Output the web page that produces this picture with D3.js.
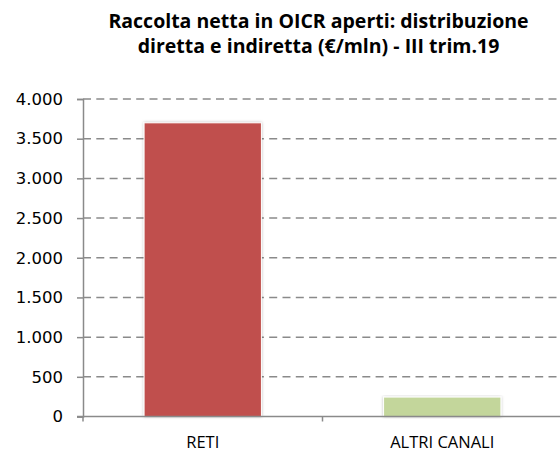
<!DOCTYPE html>
<html lang="it">
<head>
<meta charset="utf-8">
<title>Raccolta netta in OICR aperti</title>
<style>
  body { margin: 0; background: #fff; }
  .title { font-family: "Open Sans", sans-serif; font-weight: bold; font-size: 19.5px; fill: #000; }
  .y-axis .tick text { font-family: "DejaVu Sans", Verdana, sans-serif; font-size: 16.5px; fill: #000; }
  .x-axis .tick text { font-family: "Open Sans", sans-serif; font-size: 16.5px; fill: #000; }
  .grid line { stroke: #8a8a8a; stroke-width: 1.5; stroke-dasharray: 8 5.3; }
</style>
</head>
<body>
<div id="chart"></div>
<script src="https://d3js.org/d3.v7.min.js"></script>
<script>
// data
var categories = ["RETI", "ALTRI CANALI"];
var values = [3700, 245];
var barColors = ["#C0504D", "#C3D69B"];
var yTicks = [0, 500, 1000, 1500, 2000, 2500, 3000, 3500, 4000];
var titleLines = ["Raccolta netta in OICR aperti: distribuzione", "diretta e indiretta (€/mln) - III trim.19"];

var W = 560, H = 452;
var margin = { left: 83, right: 0, top: 99, bottom: 36 };

var svg = d3.select("#chart").append("svg")
    .attr("width", W).attr("height", H);

svg.selectAll(".title")
    .data(titleLines)
    .enter().append("text")
    .attr("class", "title")
    .attr("x", 318.5)
    .attr("y", function(d, i) { return 28 + i * 25; })
    .attr("text-anchor", "middle")
    .text(function(d) { return d; });

var x = d3.scaleBand()
    .domain(categories)
    .range([margin.left, margin.left + 479])
    .paddingInner(0.51)
    .paddingOuter(0.255);

var y = d3.scaleLinear()
    .domain([0, 4000])
    .range([416.5, margin.top]);

// gridlines
svg.append("g").attr("class", "grid")
    .selectAll("line")
    .data(yTicks.slice(1))
    .enter().append("line")
    .attr("x1", margin.left).attr("x2", W)
    .attr("y1", function(d) { return y(d); })
    .attr("y2", function(d) { return y(d); });

// bars with soft shadow
var defs = svg.append("defs");
var f = defs.append("filter").attr("id", "shadow")
    .attr("x", "-10%").attr("y", "-10%").attr("width", "120%").attr("height", "120%");
f.append("feDropShadow").attr("dx", 0).attr("dy", 0).attr("stdDeviation", 1.5)
    .attr("flood-color", "#000").attr("flood-opacity", 0.25);

svg.selectAll(".bar")
    .data(values)
    .enter().append("rect")
    .attr("class", "bar")
    .attr("x", function(d, i) { return x(categories[i]); })
    .attr("width", x.bandwidth())
    .attr("y", function(d) { return y(d); })
    .attr("height", function(d) { return y(0) - y(d); })
    .attr("fill", function(d, i) { return barColors[i]; })
    .attr("stroke", "#fff")
    .attr("stroke-width", 1)
    .attr("filter", "url(#shadow)");

// y axis
var yAxis = svg.append("g")
    .attr("class", "y-axis")
    .attr("transform", "translate(" + margin.left + ",0)")
    .call(d3.axisLeft(y).tickValues(yTicks).tickSize(6).tickPadding(14)
        .tickFormat(function(d) { return d3.format(",")(d).replace(/,/g, "."); }));
yAxis.selectAll("line, path").attr("stroke", "#8a8a8a").attr("stroke-width", 1.5);

// x axis
var xAxis = svg.append("g")
    .attr("class", "x-axis")
    .attr("transform", "translate(0," + y(0) + ")")
    .call(d3.axisBottom(x).tickSize(0).tickPadding(20));
xAxis.select(".domain").attr("stroke", "#8a8a8a").attr("stroke-width", 1.5)
    .attr("d", "M" + (margin.left - 6) + ",0H" + W);
// category separators
xAxis.selectAll(".sep")
    .data([margin.left, margin.left + 239.5])
    .enter().append("line")
    .attr("x1", function(d) { return d; }).attr("x2", function(d) { return d; })
    .attr("y1", 0).attr("y2", 5)
    .attr("stroke", "#8a8a8a").attr("stroke-width", 1.5);
</script>
</body>
</html>
